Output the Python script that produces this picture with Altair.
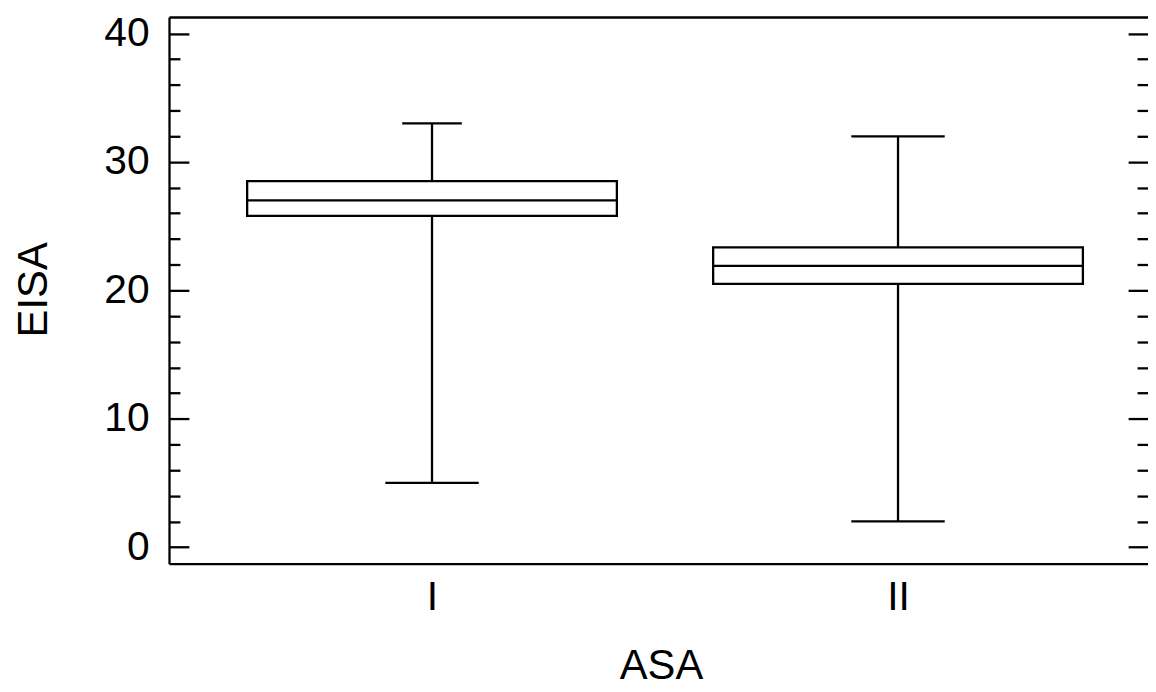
import altair as alt
import pandas as pd

# ---- data ----
asa = ["I", "II"]
whisker_low = [5.0, 2.0]
q1 = [25.8, 20.5]
median = [27.0, 21.9]
q3 = [28.5, 23.35]
whisker_high = [33.0, 32.0]
major_ticks = [0, 10, 20, 30, 40]
minor_ticks = [2, 4, 6, 8, 12, 14, 16, 18, 22, 24, 26, 28, 32, 34, 36, 38]

df = pd.DataFrame({
    "asa": asa,
    "low": whisker_low,
    "q1": q1,
    "med": median,
    "q3": q3,
    "high": whisker_high,
})

W, H = 985, 550
FONT = "Liberation Sans"
LW = 2.3

yscale = alt.Scale(domain=[-1.29, 41.29], nice=False, zero=False)
xscale = alt.Scale(type="point", domain=asa, padding=0.5504, align=0.5127)

x_bottom = alt.X("asa:N", scale=xscale, axis=alt.Axis(
    orient="bottom", title="ASA", labelFontSize=41, labelFont=FONT, labelAngle=0,
    labelPadding=14, labelColor="black", labelBaseline="top", ticks=False, tickSize=0,
    domain=True, domainColor="black", domainWidth=LW, grid=False,
    titleFontSize=42, titleFont=FONT, titleFontWeight="normal", titleColor="black",
    titleX=495, titleY=103, titleBaseline="middle", titleAlign="center"))
x_top = alt.X("asa:N", scale=xscale, axis=alt.Axis(
    orient="top", title=None, labels=False, ticks=False, domain=True,
    domainColor="black", domainWidth=LW, grid=False))
x_none = alt.X("asa:N", scale=xscale, axis=None)

y_left = alt.Axis(
    orient="left", title="EISA", values=major_ticks, labelFontSize=41, labelFont=FONT,
    labelPadding=20, labelColor="black", ticks=False, tickSize=0, domain=True,
    domainColor="black", domainWidth=LW, grid=False,
    titleFontSize=42, titleFont=FONT, titleFontWeight="normal", titleColor="black",
    titleX=-136, titleY=274, titleAngle=270, titleBaseline="middle", titleAlign="center")


def tick_axis(orient, values, size):
    return alt.Axis(orient=orient, offset=-W, values=values, labels=False, domain=False,
                    grid=False, ticks=True, tickSize=size, tickWidth=LW, tickColor="black",
                    title=None)


def yenc(field, axis):
    return alt.Y(f"{field}:Q", scale=yscale, axis=axis)


base = alt.Chart(df)

whisk_low = base.mark_rule(color="black", strokeWidth=LW).encode(
    x=x_bottom, y=yenc("low", y_left), y2="q1:Q")
whisk_high = base.mark_rule(color="black", strokeWidth=LW).encode(
    x=x_top, y=yenc("q3", tick_axis("right", major_ticks, 20)), y2="high:Q")
box = base.mark_bar(fill="white", stroke="black", strokeWidth=LW, size=372, opacity=1).encode(
    x=x_none, y=yenc("q1", tick_axis("right", minor_ticks, 11)), y2="q3:Q")
med = base.mark_tick(color="black", thickness=LW, size=372, opacity=1).encode(
    x=x_none, y=yenc("med", tick_axis("left", major_ticks, 20)))
cap_high = base.mark_tick(color="black", thickness=LW, opacity=1).encode(
    x=x_none, y=yenc("high", tick_axis("left", minor_ticks, 11)),
    size=alt.condition(alt.datum.asa == "I", alt.value(60), alt.value(94)))
cap_low = base.mark_tick(color="black", thickness=LW, size=94, opacity=1).encode(
    x=x_none, y=yenc("low", None))

chart = alt.layer(whisk_low, whisk_high, box, med, cap_high, cap_low).resolve_axis(
    x="independent", y="independent"
).properties(
    width=W, height=H,
    autosize=alt.AutoSizeParams(type="none"),
    padding={"left": 162, "top": 7, "right": 0, "bottom": 119},
).configure_view(stroke=None)

chart.save("out.html", embed_options={"renderer": "svg", "actions": False})
